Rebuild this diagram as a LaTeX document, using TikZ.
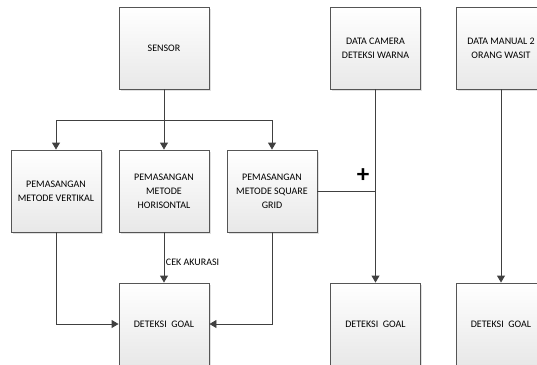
\documentclass[tikz,border=0pt]{standalone}
\usepackage{fontspec}
\setmainfont{Carlito}
\usetikzlibrary{arrows.meta,shadows}
\definecolor{lineC}{HTML}{404040}
\definecolor{boxB}{HTML}{555555}
\definecolor{boxF}{HTML}{E8E8E8}
\begin{document}
\begin{tikzpicture}[x=1pt,y=-1pt,
  box/.style={draw=boxB, line width=0.9pt, top color=white, bottom color=boxF,
    minimum width=90pt, minimum height=82pt, inner sep=2pt, align=center,
    font=\fontsize{10}{14}\selectfont,
    drop shadow={shadow xshift=1.5pt, shadow yshift=-1.5pt, fill=black, opacity=0.12}},
  conn/.style={draw=lineC, line width=0.9pt},
  arr/.style={conn, -{Triangle[length=7pt,width=8pt]}},
  lbl/.style={font=\fontsize{10}{12}\selectfont, inner sep=1.5pt}]
\useasboundingbox (0,0) rectangle (537,364);
\begin{scope}
\clip (0,0) rectangle (537,364);
\node[box] (sensor) at (164,48) {SENSOR};
\node[box] (vert) at (56,191) {PEMASANGAN\\METODE VERTIKAL};
\node[box] (hor) at (164,191) {PEMASANGAN\\METODE\\HORISONTAL};
\node[box] (sq) at (272,191) {PEMASANGAN\\METODE SQUARE\\GRID};
\node[box] (cam) at (375.5,48) {DATA CAMERA\\DETEKSI WARNA};
\node[box] (man) at (501,48) {DATA MANUAL 2\\ORANG WASIT};
\node[box] (g1) at (164,324) {DETEKSI~ GOAL};
\node[box] (g2) at (375.5,324) {DETEKSI~ GOAL};
\node[box] (g3) at (501,324) {DETEKSI~ GOAL};
\coordinate (split) at (164,120);
\draw[conn] (sensor.south) -- (split);
\draw[arr] (split) -| (vert.north);
\draw[arr] (split) -- (hor.north);
\draw[arr] (split) -| (sq.north);
\draw[arr] (hor.south) -- node[lbl, pos=0.6, right] {CEK AKURASI} (g1.north);
\draw[arr] (vert.south) |- (g1.west);
\draw[arr] (sq.south) |- (g1.east);
\draw[arr] (cam.south) -- (g2.north);
\draw[conn] (sq.east) -- (sq.east -| cam.south);
\draw[arr] (man.south) -- (g3.north);
\node[font=\fontsize{25}{25}\selectfont\bfseries, inner sep=0pt] (plus) at (363,176) {+};
\end{scope}
\end{tikzpicture}
\end{document}
